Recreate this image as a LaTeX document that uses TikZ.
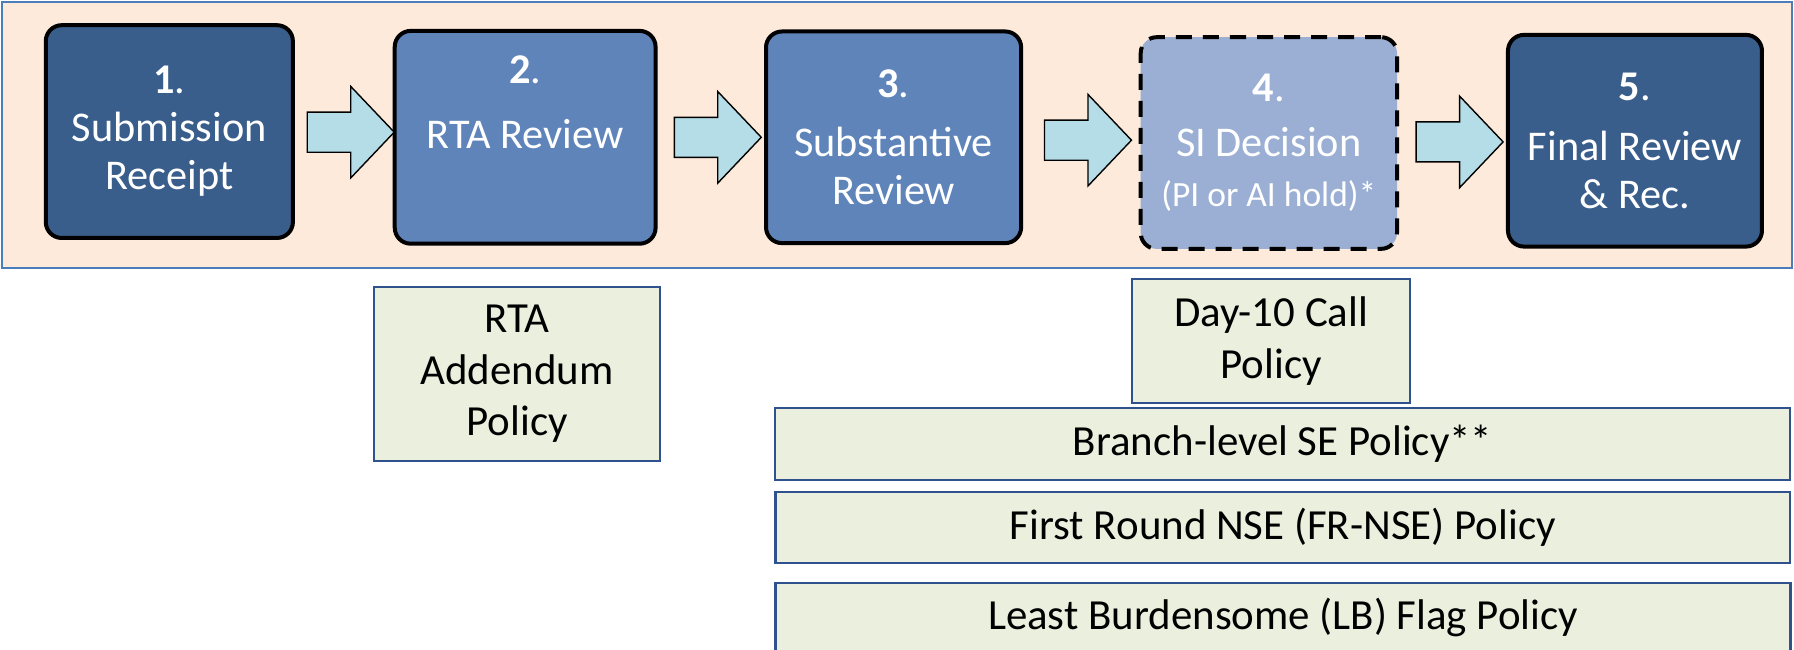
\documentclass[tikz,border=0pt]{standalone}
\usepackage{fontspec}
\setmainfont{Carlito}
\usetikzlibrary{positioning,calc}

\definecolor{bandfill}{HTML}{FDEADA}
\definecolor{bandline}{HTML}{4A7EBB}
\definecolor{darkstage}{HTML}{3A5E8B}
\definecolor{midstage}{HTML}{5F84BA}
\definecolor{lightstage}{HTML}{9AAFD3}
\definecolor{arrowfill}{HTML}{B4DDE8}
\definecolor{policyfill}{HTML}{EBF0DE}
\definecolor{policyline}{HTML}{2F528F}

\tikzstyle{stage}=[draw=black, line width=4pt, rounded corners=16pt,
   text=white, align=center, inner sep=0pt,
   font=\fontsize{37}{42}\selectfont]
\tikzstyle{policy}=[draw=policyline, line width=2.3pt, fill=policyfill,
   align=center, inner sep=0pt, font=\fontsize{37.5}{45}\selectfont]
\tikzset{flow/.pic={
   \draw[fill=arrowfill, line width=1.4pt, line join=miter]
     (-38,-17.5) -- (0,-17.5) -- (0,-40) -- (38,0) -- (0,40)
     -- (0,17.5) -- (-38,17.5) -- cycle;}}

\begin{document}
\begin{tikzpicture}[scale=1.1441, x=1pt, y=-1pt,
   every node/.style={transform shape}]
   \useasboundingbox (0,0) rectangle (1568,567.3);
   % process band
   \draw[bandline, fill=bandfill, line width=2.3pt] (2,2) rectangle (1566,234);
   % stages
   \node (s1) [stage, fill=darkstage, minimum width=216pt, minimum height=186pt]
     at (148,115) {\textbf{1}.\\Submission\\Receipt};
   \node (s2) [stage, fill=midstage, minimum width=228pt, minimum height=186pt]
     at (459,120) {\textbf{2}.\\[15pt]RTA Review\\[19pt]\mbox{}};
   \node (s3) [stage, fill=midstage, minimum width=223pt, minimum height=185pt]
     at (781,120) {\textbf{3}.\\[10pt]Substantive\\Review};
   \node (s4) [stage, fill=lightstage, dashed, dash pattern=on 16pt off 11pt,
     minimum width=224pt, minimum height=185pt]
     at (1109,125) {\textbf{4}.\\[6pt]SI Decision\\[2pt]{\fontsize{31}{36}\selectfont (PI or AI hold)*}};
   \node (s5) [stage, fill=darkstage, minimum width=222pt, minimum height=185pt]
     at (1429,123) {\textbf{5}.\\[10pt]Final Review\\\& Rec.};
   % arrows between stages
   \foreach \a/\b/\dy in {s1/s2/-2, s2/s3/0, s3/s4/0, s4/s5/0}
     \path ($(\a.east)!0.5!(\b.west)+(6,\dy)$) pic {flow};
   % policies
   \node (p-rta) [policy, minimum width=250pt, minimum height=152pt]
     at (452,327) {RTA\\Addendum\\Policy};
   \node (p-day) [policy, minimum width=243pt, minimum height=108pt]
     at (1111,298) {Day-10 Call\\Policy};
   \node (p-branch) [policy, minimum width=887pt, minimum height=63pt]
     at (1121,388) {Branch-level SE Policy**};
   \node (p-fr) [policy, minimum width=887pt, minimum height=62pt,
     below=8pt of p-branch] {First Round NSE (FR-NSE) Policy};
   \node (p-lb) [policy, minimum width=887pt, minimum height=60pt,
     below=15pt of p-fr] {Least Burdensome (LB) Flag Policy};
\end{tikzpicture}
\end{document}
